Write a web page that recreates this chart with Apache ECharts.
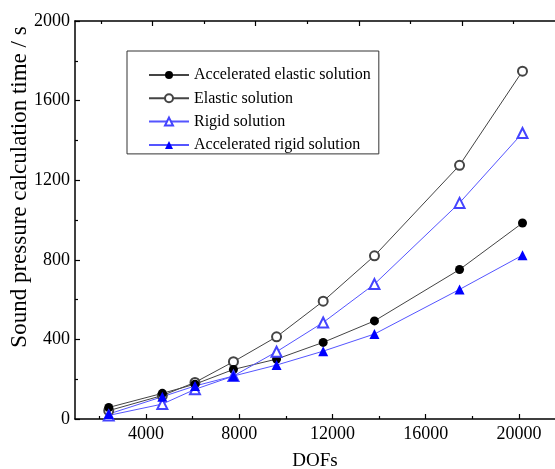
<!DOCTYPE html>
<html>
<head>
<meta charset="utf-8">
<script src="https://cdn.jsdelivr.net/npm/echarts@6/dist/echarts.min.js"></script>
<style>
  html, body { margin: 0; padding: 0; background: #fff; }
  #chart { width: 555px; height: 469px; }
</style>
</head>
<body>
<div id="chart"></div>
<script>
// Degrees of freedom (x) and computation times in seconds (y)
const dofs = [2400, 4700, 6100, 7750, 9600, 11600, 13800, 17450, 20150];
const accelElastic = [58, 129, 175, 249, 301, 385, 493, 751, 985];
const elastic = [42, 118, 184, 288, 413, 592, 820, 1275, 1748];
const rigid = [18, 75, 149, 216, 338, 485, 678, 1086, 1437];
const accelRigid = [25, 112, 166, 216, 271, 341, 427, 651, 823];

const seriesNames = ['Accelerated elastic solution', 'Elastic solution', 'Rigid solution', 'Accelerated rigid solution'];

// Tick positions
const xMajorTicks = [4000, 8000, 12000, 16000, 20000];
const xMinorTicks = [2000, 6000, 10000, 14000, 18000];
const topMajorTicks = [4000, 8000, 12000, 16000];
const topMinorTicks = [2000, 6000, 10000, 14000, 18000];

const pairs = (ys) => dofs.map((x, i) => [x, ys[i]]);
const plain = (v) => String(v);

const FONT = '"Liberation Serif", "Times New Roman", serif';
const chart = echarts.init(document.getElementById('chart'), null, { renderer: 'canvas' });

const axisLineStyle = { color: '#000', width: 1.5 };

chart.setOption({
  animation: false,
  backgroundColor: '#fff',
  grid: { left: 75, right: 0, top: 21, bottom: 50, containLabel: false, outerBoundsMode: 'none' },
  legend: {
    orient: 'vertical',
    left: 127,
    top: 51,
    padding: [15, 8, 0, 21],
    itemWidth: 40,
    itemHeight: 10,
    itemGap: 5.3,
    borderColor: '#333',
    borderWidth: 1,
    borderRadius: 0,
    data: seriesNames,
    textStyle: { fontFamily: FONT, fontSize: 16, color: '#000', lineHeight: 18 }
  },
  xAxis: [
    {
      type: 'value', position: 'bottom', min: 953, max: 21545,
      name: 'DOFs', nameLocation: 'middle', nameGap: 33,
      nameTextStyle: { fontFamily: FONT, fontSize: 19, color: '#000' },
      axisLine: { show: true, lineStyle: axisLineStyle },
      axisTick: { show: true, inside: true, length: 5, customValues: xMajorTicks, lineStyle: { color: '#000', width: 1.2 } },
      axisLabel: { customValues: xMajorTicks, formatter: plain, fontFamily: FONT, fontSize: 18, color: '#000', margin: 6 },
      splitLine: { show: false }
    },
    {
      type: 'value', position: 'bottom', min: 953, max: 21545,
      axisLine: { show: false },
      axisTick: { show: true, inside: true, length: 3, customValues: xMinorTicks, lineStyle: { color: '#000', width: 1.2 } },
      axisLabel: { show: false },
      splitLine: { show: false }
    },
    {
      type: 'value', position: 'top', min: 1000, max: 19605,
      axisLine: { show: true, lineStyle: axisLineStyle },
      axisTick: { show: true, inside: true, length: 5, customValues: topMajorTicks, lineStyle: { color: '#000', width: 1.2 } },
      axisLabel: { show: false },
      splitLine: { show: false }
    },
    {
      type: 'value', position: 'top', min: 1000, max: 19605,
      axisLine: { show: false },
      axisTick: { show: true, inside: true, length: 3, customValues: topMinorTicks, lineStyle: { color: '#000', width: 1.2 } },
      axisLabel: { show: false },
      splitLine: { show: false }
    }
  ],
  yAxis: {
    type: 'value', min: 0, max: 2000, interval: 400,
    axisLine: { show: true, lineStyle: axisLineStyle },
    axisTick: { show: true, inside: true, length: 5, lineStyle: { color: '#000', width: 1.2 } },
    minorTick: { show: true, splitNumber: 2, length: 3, lineStyle: { color: '#000', width: 1.2 } },
    axisLabel: { formatter: plain, fontFamily: FONT, fontSize: 18, color: '#000', margin: 5 },
    splitLine: { show: false }
  },
  graphic: [{
    type: 'text',
    x: 20, y: 187,
    rotation: Math.PI / 2,
    style: {
      text: 'Sound pressure calculation time / s',
      fontFamily: FONT, fontSize: 23, fill: '#000',
      align: 'center', verticalAlign: 'middle'
    }
  }],
  series: [
    {
      name: 'Elastic solution', type: 'line', xAxisIndex: 0, data: pairs(elastic),
      symbol: 'emptyCircle', symbolSize: 9,
      itemStyle: { color: '#444', borderWidth: 1 },
      lineStyle: { color: '#444', width: 1 }
    },
    {
      name: 'Accelerated elastic solution', type: 'line', xAxisIndex: 0, data: pairs(accelElastic),
      symbol: 'circle', symbolSize: 9,
      itemStyle: { color: '#000' },
      lineStyle: { color: '#444', width: 1 }
    },
    {
      name: 'Rigid solution', type: 'line', xAxisIndex: 0, data: pairs(rigid),
      symbol: 'emptyTriangle', symbolSize: 10,
      itemStyle: { color: '#4444ff', borderWidth: 1 },
      lineStyle: { color: '#5555ff', width: 1 }
    },
    {
      name: 'Accelerated rigid solution', type: 'line', xAxisIndex: 0, data: pairs(accelRigid),
      symbol: 'triangle', symbolSize: 10,
      itemStyle: { color: '#0000ff' },
      lineStyle: { color: '#5555ff', width: 1 }
    }
  ]
});
</script>
</body>
</html>
